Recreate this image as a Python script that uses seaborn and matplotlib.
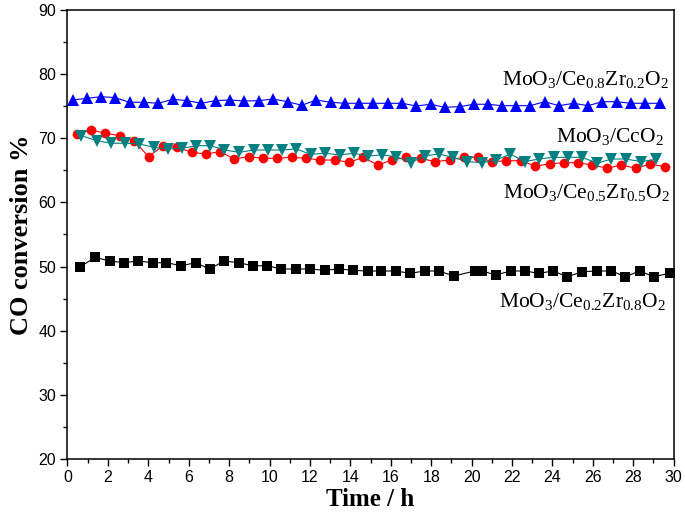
import pandas as pd
import numpy as np
import matplotlib
matplotlib.use('Agg')
import matplotlib.pyplot as plt
from matplotlib.ticker import MultipleLocator
import seaborn as sns

# MoO3/Ce0.2Zr0.8O2 (black squares)
t_sq = [0.64, 1.37, 2.08, 2.79, 3.50, 4.21, 4.90, 5.63, 6.34, 7.03, 7.76, 8.47, 9.17, 9.89,
        10.59, 11.30, 12.02, 12.72, 13.43, 14.15, 14.85, 15.53, 16.24, 16.96, 17.67, 18.38,
        19.12, 20.15, 20.53, 21.19, 21.93, 22.62, 23.33, 24.03, 24.74, 25.48, 26.20, 26.92,
        27.61, 28.32, 29.01, 29.80]
co_sq = [49.98, 51.44, 50.87, 50.60, 50.87, 50.60, 50.60, 50.13, 50.60, 49.62, 50.87, 50.60,
         50.13, 50.13, 49.62, 49.62, 49.62, 49.42, 49.62, 49.42, 49.30, 49.31, 49.31, 48.95,
         49.31, 49.31, 48.53, 49.31, 49.31, 48.68, 49.31, 49.31, 48.95, 49.31, 48.42, 49.20,
         49.31, 49.31, 48.42, 49.31, 48.42, 48.95]

# MoO3/Ce0.8Zr0.2O2 (blue up triangles)
t_up = [0.26, 0.97, 1.67, 2.36, 3.07, 3.78, 4.49, 5.21, 5.93, 6.62, 7.33, 8.03, 8.76, 9.47,
        10.16, 10.89, 11.60, 12.31, 13.02, 13.73, 14.44, 15.11, 15.86, 16.57, 17.26, 17.97,
        18.66, 19.41, 20.10, 20.81, 21.50, 22.21, 22.90, 23.61, 24.32, 25.05, 25.76, 26.47,
        27.19, 27.87, 28.60, 29.31]
co_up = [75.97, 76.23, 76.48, 76.33, 75.61, 75.61, 75.45, 76.08, 75.86, 75.45, 75.86, 75.97,
         75.81, 75.86, 76.12, 75.70, 75.14, 75.97, 75.61, 75.45, 75.45, 75.45, 75.45, 75.45,
         75.03, 75.30, 74.83, 74.92, 75.30, 75.30, 75.08, 75.08, 75.08, 75.70, 75.08, 75.45,
         75.08, 75.70, 75.70, 75.45, 75.45, 75.45]

# MoO3/CeO2 (red circles)
t_ci = [0.46, 1.17, 1.88, 2.59, 3.30, 4.01, 4.72, 5.43, 6.14, 6.85, 7.56, 8.25, 8.96, 9.67,
        10.38, 11.09, 11.82, 12.52, 13.23, 13.95, 14.64, 15.36, 16.07, 16.77, 17.48, 18.17,
        18.91, 19.60, 20.31, 21.02, 21.72, 22.43, 23.15, 23.86, 24.55, 25.26, 25.97, 26.72,
        27.41, 28.12, 28.84, 29.55]
co_ci = [70.67, 71.29, 70.78, 70.40, 69.62, 67.13, 68.80, 68.59, 67.81, 67.55, 67.91, 66.77,
         67.13, 66.88, 66.88, 67.03, 66.88, 66.61, 66.61, 66.26, 67.03, 65.83, 66.61, 67.03,
         66.88, 66.35, 66.61, 67.03, 67.03, 66.35, 66.50, 66.50, 65.68, 65.99, 66.19, 66.19,
         65.83, 65.32, 65.83, 65.32, 65.99, 65.57]

# MoO3/Ce0.5Zr0.5O2 (teal down triangles)
t_dn = [0.68, 1.45, 2.16, 2.87, 3.56, 4.27, 4.97, 5.68, 6.37, 7.07, 7.77, 8.51, 9.21, 9.92,
        10.63, 11.32, 12.03, 12.76, 13.47, 14.16, 14.87, 15.56, 16.27, 16.98, 17.67, 18.37,
        19.07, 19.79, 20.51, 21.22, 21.92, 22.62, 23.33, 24.06, 24.77, 25.48, 26.21, 26.92,
        27.62, 28.40, 29.14]
co_dn = [70.40, 69.62, 69.22, 69.22, 69.11, 68.59, 68.33, 68.44, 68.84, 68.84, 68.17, 67.81,
         68.17, 68.17, 68.17, 68.33, 67.50, 67.66, 67.39, 67.66, 67.24, 67.39, 67.13, 66.19,
         67.24, 67.55, 67.03, 66.35, 66.19, 66.61, 67.55, 66.35, 66.77, 67.03, 67.03, 67.03,
         66.10, 66.77, 66.77, 66.35, 66.72]

labels = [r'$\mathrm{MoO_3/Ce_{0.8}Zr_{0.2}O_2}$',
          r'$\mathrm{MoO_3/CcO_2}$',
          r'$\mathrm{MoO_3/Ce_{0.5}Zr_{0.5}O_2}$',
          r'$\mathrm{MoO_3/Ce_{0.2}Zr_{0.8}O_2}$']

sns.set_style('ticks', {'axes.edgecolor': 'black', 'xtick.color': 'black',
                        'ytick.color': 'black', 'text.color': 'black',
                        'axes.labelcolor': 'black'})
plt.rcParams['font.family'] = ['Liberation Sans', 'DejaVu Sans']
plt.rcParams['mathtext.fontset'] = 'custom'
plt.rcParams['mathtext.rm'] = 'Liberation Serif'
plt.rcParams['mathtext.it'] = 'Liberation Serif:italic'

fig = plt.figure(figsize=(6.85, 5.24), dpi=100)
ax = fig.add_axes([0.0985, 0.124, 0.885, 0.857])

sns.lineplot(x=t_sq, y=co_sq, ax=ax, color='black', marker='s', markersize=6.8,
             markeredgewidth=0, linewidth=0.8)
sns.lineplot(x=t_up, y=co_up, ax=ax, color='#0000FF', marker='^', markersize=8,
             markeredgewidth=0, linewidth=0.8)
sns.lineplot(x=t_ci, y=co_ci, ax=ax, color='#FF0000', marker='o', markersize=7,
             markeredgewidth=0, linewidth=0.8)
sns.lineplot(x=t_dn, y=co_dn, ax=ax, color='#008080', marker='v', markersize=8,
             markeredgewidth=0, linewidth=0.8)

ax.set_xlim(0, 30)
ax.set_ylim(20, 90)
ax.xaxis.set_major_locator(MultipleLocator(2))
ax.xaxis.set_minor_locator(MultipleLocator(1))
ax.yaxis.set_major_locator(MultipleLocator(10))
ax.yaxis.set_minor_locator(MultipleLocator(5))
ax.tick_params(which='major', direction='out', length=5, width=1, labelsize=11.5, pad=3,
               colors='black')
ax.tick_params(which='minor', direction='out', length=3, width=1, colors='black')
for s in ax.spines.values():
    s.set_linewidth(1.1)
    s.set_color('black')
    s.set_visible(True)

ax.set_xlabel('Time / h', fontsize=18, fontweight='bold', family='Liberation Serif',
              labelpad=2, color='black')
ax.set_ylabel('CO conversion %', fontsize=19, fontweight='bold', family='Liberation Serif',
              labelpad=4, color='black')

ax.text(29.75, 78.3, labels[0], ha='right', va='baseline', fontsize=15.5, color='black')
ax.text(29.5, 69.47, labels[1], ha='right', va='baseline', fontsize=15.5, color='black')
ax.text(29.8, 60.64, labels[2], ha='right', va='baseline', fontsize=15.5, color='black')
ax.text(29.6, 43.65, labels[3], ha='right', va='baseline', fontsize=15.5, color='black')

plt.savefig('out.png', dpi=100)
